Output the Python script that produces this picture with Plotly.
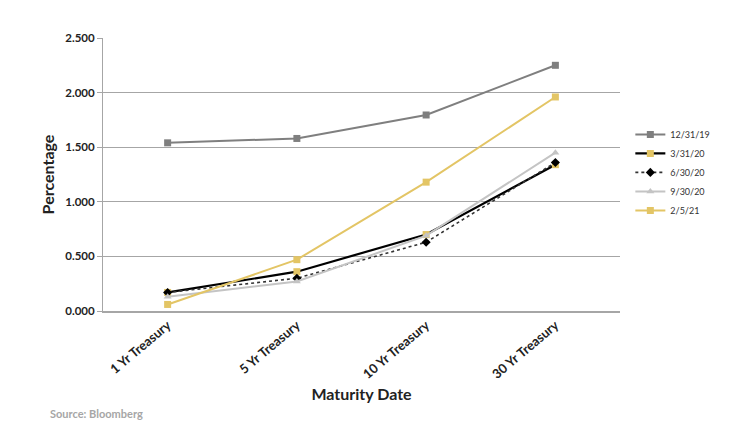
import plotly.graph_objects as go

categories = ["1 Yr Treasury", "5 Yr Treasury", "10 Yr Treasury", "30 Yr Treasury"]
s_1231_19 = [1.54, 1.58, 1.795, 2.25]
s_0331_20 = [0.17, 0.36, 0.70, 1.34]
s_0630_20 = [0.17, 0.30, 0.63, 1.36]
s_0930_20 = [0.13, 0.27, 0.69, 1.45]
s_0205_21 = [0.06, 0.47, 1.18, 1.96]
y_ticks = [0, 0.5, 1.0, 1.5, 2.0, 2.5]

GOLD = "#E3C565"
fig = go.Figure()
fig.add_trace(go.Scatter(x=categories, y=s_1231_19, name="12/31/19", mode="lines+markers",
                         line=dict(color="#7f7f7f", width=2),
                         marker=dict(symbol="square", size=7, color="#7f7f7f")))
fig.add_trace(go.Scatter(x=categories, y=s_0331_20, name="3/31/20", mode="lines+markers",
                         line=dict(color="#000000", width=2.2),
                         marker=dict(symbol="square", size=7, color=GOLD)))
fig.add_trace(go.Scatter(x=categories, y=s_0630_20, name="6/30/20", mode="lines+markers",
                         line=dict(color="#333333", width=1.6, dash="dot"),
                         marker=dict(symbol="diamond", size=7, color="#000000")))
fig.add_trace(go.Scatter(x=categories, y=s_0930_20, name="9/30/20", mode="lines+markers",
                         line=dict(color="#c4c4c4", width=2),
                         marker=dict(symbol="triangle-up", size=7, color="#c4c4c4")))
fig.add_trace(go.Scatter(x=categories, y=s_0205_21, name="2/5/21", mode="lines+markers",
                         line=dict(color=GOLD, width=2),
                         marker=dict(symbol="square", size=7, color=GOLD)))

fig.update_layout(
    width=741, height=434,
    margin=dict(l=103, r=121, t=38, b=123),
    plot_bgcolor="white", paper_bgcolor="white",
    font=dict(family="Lato", color="#222222"),
    legend=dict(x=1.02, y=0.70, xanchor="left", yanchor="top",
                font=dict(size=9, color="#333333"), tracegroupgap=0,
                itemwidth=30, bgcolor="rgba(0,0,0,0)"),
    xaxis=dict(
        type="category", tickangle=-40, range=[-0.5, 3.5],
        tickfont=dict(size=13, weight="bold", color="#222222"),
        showline=True, linecolor="#a6a6a6", linewidth=1.5,
        showgrid=False, ticks="",
        title=dict(text="Maturity Date", font=dict(size=16, weight="bold", color="#222222"), standoff=8),
    ),
    yaxis=dict(
        range=[0, 2.5], tickvals=y_ticks, tickformat=".3f",
        tickfont=dict(size=11.5, weight="bold", color="#222222"),
        showline=True, linecolor="#a6a6a6", linewidth=1,
        ticks="outside", ticklen=5, tickcolor="#a6a6a6",
        showgrid=True, gridcolor="#a6a6a6", gridwidth=1,
        zeroline=False,
        title=dict(text="Percentage", font=dict(size=16, weight="bold", color="#222222"), standoff=6),
    ),
    annotations=[dict(text="Source: Bloomberg", xref="paper", yref="paper",
                      x=-0.107, y=-0.374, xanchor="left", yanchor="middle",
                      showarrow=False, font=dict(size=11, color="#a6a6a6", weight="bold"))],
)
fig.write_html("out.html")
